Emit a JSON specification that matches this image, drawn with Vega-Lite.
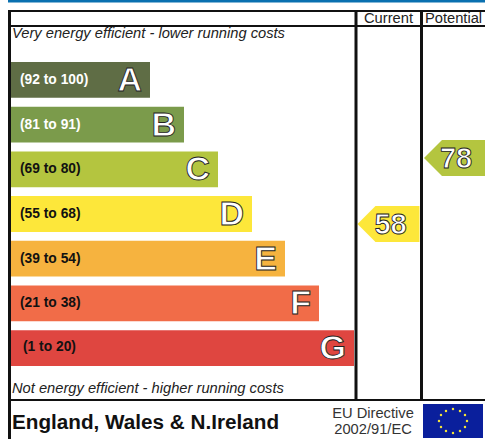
{
"$schema":"https://vega.github.io/schema/vega-lite/v6.json",
"width":485,"height":439,"padding":0,"autosize":{"type":"none"},
"background":"white",
"view":{"stroke":null},
"datasets":{
"bands":[
{"grade":"A","range":"(92 to 100)","length":140},
{"grade":"B","range":"(81 to 91)","length":174},
{"grade":"C","range":"(69 to 80)","length":208},
{"grade":"D","range":"(55 to 68)","length":242},
{"grade":"E","range":"(39 to 54)","length":275},
{"grade":"F","range":"(21 to 38)","length":309},
{"grade":"G","range":"(1 to 20)","length":344}],
"ratings":[{"column":"Current","score":58,"grade":"D"},{"column":"Potential","score":78,"grade":"C"}],
"stars":[{"sx":467,"sy":421},{"sx":465,"sy":415},{"sx":460,"sy":411},{"sx":453,"sy":409},{"sx":446,"sy":411},{"sx":441,"sy":415},{"sx":439,"sy":421},{"sx":441,"sy":427},{"sx":446,"sy":431},{"sx":453,"sy":433},{"sx":460,"sy":431},{"sx":465,"sy":427}],
"thin":[{"a":9,"b":485,"c":11},{"a":9,"b":485,"c":26},{"a":9,"b":485,"c":400}],
"thick":[{"a":10,"b":439,"c":9.5},{"a":10,"b":401,"c":356},{"a":10,"b":401,"c":421.5}]
},
"resolve":{"scale":{"x":"independent","y":"independent","color":"independent"}},
"layer":[
{"data":{"name":"bands"},"mark":{"type":"bar"},
 "encoding":{
 "x":{"field":"length","type":"quantitative","scale":{"domain":[0,475],"range":[10,485]},"axis":null},
 "y":{"field":"grade","type":"nominal","scale":{"type":"band","domain":["A","B","C","D","E","F","G"],"range":[62,366],"paddingInner":0.2,"paddingOuter":0},"axis":null},
 "color":{"field":"grade","type":"nominal","legend":null,"scale":{"domain":["A","B","C","D","E","F","G"],"range":["#5f6d45","#7b9b4b","#b4c53f","#fde73a","#f6b33f","#f16c48","#df4640"]}}}},
{"data":{"name":"bands"},"transform":[{"filter":"datum.grade!=='G'"}],"mark":{"type":"text","align":"left","baseline":"middle","font":"Liberation Sans","fontWeight":"bold","fontSize":13.8},
 "encoding":{
 "x":{"datum":20,"type":"quantitative","scale":{"domain":[0,485],"range":[0,485]},"axis":null},
 "y":{"field":"grade","type":"nominal","scale":{"type":"band","domain":["A","B","C","D","E","F","G"],"range":[62,366],"paddingInner":0.2,"paddingOuter":0},"axis":null},
 "text":{"field":"range","type":"nominal"},
 "color":{"field":"grade","type":"nominal","legend":null,"scale":{"domain":["A","B","C","D","E","F"],"range":["#ffffff","#ffffff","#111111","#111111","#111111","#111111"]}}}},
{"data":{"name":"bands"},"transform":[{"filter":"datum.grade==='G'"}],"mark":{"type":"text","align":"left","baseline":"middle","font":"Liberation Sans","fontWeight":"bold","fontSize":13.8,"dy":-1,"color":"#111111"},
 "encoding":{
 "x":{"datum":23,"type":"quantitative","scale":{"domain":[0,485],"range":[0,485]},"axis":null},
 "y":{"field":"grade","type":"nominal","scale":{"type":"band","domain":["A","B","C","D","E","F","G"],"range":[62,366],"paddingInner":0.2,"paddingOuter":0},"axis":null},
 "text":{"field":"range","type":"nominal"}}},
{"data":{"name":"bands"},"mark":{"type":"text","align":"right","baseline":"middle","font":"Liberation Sans","fontWeight":"bold","fontSize":34,"dx":-8,"dy":1,"fill":"white","stroke":"#222222","strokeWidth":0.9},
 "encoding":{
 "x":{"field":"length","type":"quantitative","scale":{"domain":[0,475],"range":[10,485]},"axis":null},
 "y":{"field":"grade","type":"nominal","scale":{"type":"band","domain":["A","B","C","D","E","F","G"],"range":[62,366],"paddingInner":0.2,"paddingOuter":0},"axis":null},
 "text":{"field":"grade","type":"nominal"}}},
{"data":{"name":"ratings"},"mark":{"type":"point","filled":true,"opacity":1,"shape":"M-1 0L-0.42 -0.58L1 -0.58L1 0.58L-0.42 0.58Z","size":3844},
 "encoding":{
 "x":{"field":"column","type":"nominal","scale":{"type":"point","domain":["Current","Potential"],"range":[388.5,455],"padding":0},"axis":null},
 "y":{"field":"score","type":"quantitative","scale":{"domain":[100,0],"range":[85.4,415.4],"zero":false,"nice":false},"axis":null},
 "color":{"field":"grade","type":"nominal","legend":null,"scale":{"domain":["C","D"],"range":["#b4c53f","#fde73a"]}}}},
{"data":{"name":"ratings"},"mark":{"type":"text","align":"center","baseline":"middle","font":"Liberation Sans","fontWeight":"bold","fontSize":29,"dy":1,"fill":"white","stroke":"#222222","strokeWidth":0.9},
 "encoding":{
 "x":{"field":"column","type":"nominal","scale":{"type":"point","domain":["Current","Potential"],"range":[390.5,456],"padding":0},"axis":null},
 "y":{"field":"score","type":"quantitative","scale":{"domain":[100,0],"range":[85.4,415.4],"zero":false,"nice":false},"axis":null},
 "text":{"field":"score","type":"quantitative"}}},
{"data":{"values":[{"column":"Current"},{"column":"Potential"}]},"mark":{"type":"text","align":"center","baseline":"middle","font":"Liberation Sans","fontSize":14.7,"color":"#222222"},
 "encoding":{
 "x":{"field":"column","type":"nominal","scale":{"type":"point","domain":["Current","Potential"],"range":[388.5,453.5],"padding":0},"axis":null},
 "y":{"datum":19,"type":"quantitative","scale":{"domain":[0,439],"range":[0,439],"zero":false,"nice":false},"axis":null},
 "text":{"field":"column","type":"nominal"}}},
{"data":{"values":[{"note":"Very energy efficient - lower running costs","pos":33.5},{"note":"Not energy efficient - higher running costs","pos":389}]},"mark":{"type":"text","align":"left","baseline":"middle","font":"Liberation Sans","fontSize":14.7,"fontStyle":"italic","color":"#222222"},
 "encoding":{
 "x":{"datum":12,"type":"quantitative","scale":{"domain":[0,485],"range":[0,485]},"axis":null},
 "y":{"field":"pos","type":"quantitative","scale":{"domain":[0,439],"range":[0,439],"zero":false,"nice":false},"axis":null},
 "text":{"field":"note","type":"nominal"}}},
{"data":{"values":[{"note":"England, Wales & N.Ireland"}]},"mark":{"type":"text","align":"left","baseline":"middle","font":"Liberation Sans","fontSize":20.7,"fontWeight":"bold","color":"#111111"},
 "encoding":{
 "x":{"datum":12,"type":"quantitative","scale":{"domain":[0,485],"range":[0,485]},"axis":null},
 "y":{"datum":423,"type":"quantitative","scale":{"domain":[0,439],"range":[0,439],"zero":false,"nice":false},"axis":null},
 "text":{"field":"note","type":"nominal"}}},
{"data":{"values":[{"note":"EU Directive","pos":413.5},{"note":"2002/91/EC","pos":429.5}]},"mark":{"type":"text","align":"center","baseline":"middle","font":"Liberation Sans","fontSize":14.7,"color":"#333333"},
 "encoding":{
 "x":{"datum":373,"type":"quantitative","scale":{"domain":[0,485],"range":[0,485]},"axis":null},
 "y":{"field":"pos","type":"quantitative","scale":{"domain":[0,439],"range":[0,439],"zero":false,"nice":false},"axis":null},
 "text":{"field":"note","type":"nominal"}}},
{"data":{"values":[{"a":423,"b":483,"c":404,"d":438}]},"mark":{"type":"rect","color":"#0a1f9c"},
 "encoding":{
 "x":{"field":"a","type":"quantitative","scale":{"domain":[0,485],"range":[0,485]},"axis":null},"x2":{"field":"b"},
 "y":{"field":"c","type":"quantitative","scale":{"domain":[0,439],"range":[0,439],"zero":false,"nice":false},"axis":null},"y2":{"field":"d"}}},
{"data":{"name":"stars"},"mark":{"type":"point","shape":"circle","filled":true,"opacity":1,"color":"#f2e23a","size":6},
 "encoding":{
 "x":{"field":"sx","type":"quantitative","scale":{"domain":[0,485],"range":[0,485]},"axis":null},
 "y":{"field":"sy","type":"quantitative","scale":{"domain":[0,439],"range":[0,439],"zero":false,"nice":false},"axis":null}}},
{"data":{"values":[{"a":8,"b":485,"c":1}]},"mark":{"type":"rule","color":"#0a70b0","strokeWidth":3},
 "encoding":{"x":{"field":"a","type":"quantitative","scale":{"domain":[0,485],"range":[0,485]},"axis":null},"x2":{"field":"b"},
 "y":{"field":"c","type":"quantitative","scale":{"domain":[0,439],"range":[0,439],"zero":false,"nice":false},"axis":null}}},
{"data":{"name":"thin"},"mark":{"type":"rule","color":"#111111","strokeWidth":2},
 "encoding":{"x":{"field":"a","type":"quantitative","scale":{"domain":[0,485],"range":[0,485]},"axis":null},"x2":{"field":"b"},
 "y":{"field":"c","type":"quantitative","scale":{"domain":[0,439],"range":[0,439],"zero":false,"nice":false},"axis":null}}},
{"data":{"name":"thick"},"mark":{"type":"rule","color":"#111111","strokeWidth":3},
 "encoding":{"x":{"field":"c","type":"quantitative","scale":{"domain":[0,485],"range":[0,485]},"axis":null},
 "y":{"field":"a","type":"quantitative","scale":{"domain":[0,439],"range":[0,439],"zero":false,"nice":false},"axis":null},"y2":{"field":"b"}}}
]
}
